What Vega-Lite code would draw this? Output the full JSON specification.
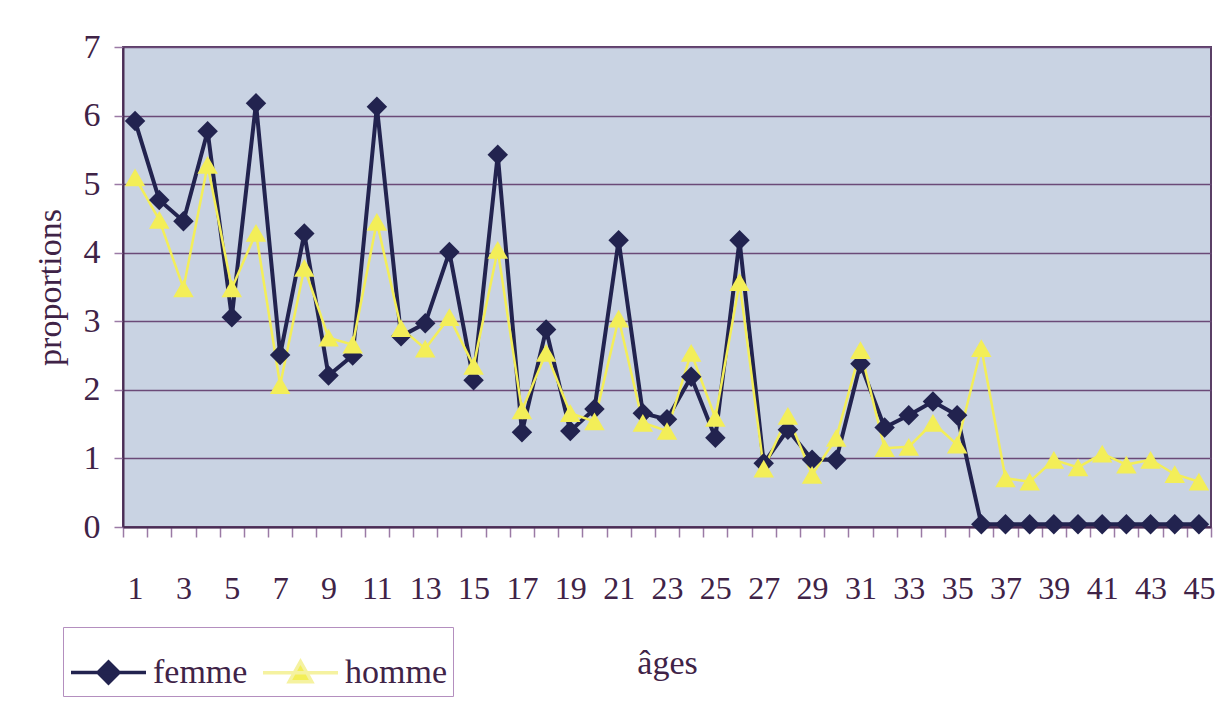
{
  "$schema": "https://vega.github.io/schema/vega-lite/v6.json",
  "width": 1088,
  "height": 480,
  "autosize": "none",
  "padding": {"left": 123, "top": 47, "right": 15, "bottom": 174},
  "background": "white",
  "config": {
    "font": "Liberation Serif",
    "view": {"fill": "#c9d3e3", "stroke": "#5a3f66", "strokeWidth": 2},
    "axis": {"labelColor": "#3f2347", "titleColor": "#3f2347", "labelFont": "Liberation Serif", "titleFont": "Liberation Serif", "titleFontWeight": "normal"}
  },
  "data": {"values": [
    {"age":1,"sexe":"femme","p":5.92},{"age":2,"sexe":"femme","p":4.77},{"age":3,"sexe":"femme","p":4.46},{"age":4,"sexe":"femme","p":5.77},{"age":5,"sexe":"femme","p":3.06},
    {"age":6,"sexe":"femme","p":6.18},{"age":7,"sexe":"femme","p":2.51},{"age":8,"sexe":"femme","p":4.28},{"age":9,"sexe":"femme","p":2.21},{"age":10,"sexe":"femme","p":2.5},
    {"age":11,"sexe":"femme","p":6.13},{"age":12,"sexe":"femme","p":2.78},{"age":13,"sexe":"femme","p":2.97},{"age":14,"sexe":"femme","p":4.01},{"age":15,"sexe":"femme","p":2.14},
    {"age":16,"sexe":"femme","p":5.43},{"age":17,"sexe":"femme","p":1.38},{"age":18,"sexe":"femme","p":2.88},{"age":19,"sexe":"femme","p":1.4},{"age":20,"sexe":"femme","p":1.72},
    {"age":21,"sexe":"femme","p":4.18},{"age":22,"sexe":"femme","p":1.66},{"age":23,"sexe":"femme","p":1.57},{"age":24,"sexe":"femme","p":2.19},{"age":25,"sexe":"femme","p":1.3},
    {"age":26,"sexe":"femme","p":4.18},{"age":27,"sexe":"femme","p":0.93},{"age":28,"sexe":"femme","p":1.42},{"age":29,"sexe":"femme","p":0.98},{"age":30,"sexe":"femme","p":0.98},
    {"age":31,"sexe":"femme","p":2.38},{"age":32,"sexe":"femme","p":1.45},{"age":33,"sexe":"femme","p":1.63},{"age":34,"sexe":"femme","p":1.83},{"age":35,"sexe":"femme","p":1.63},
    {"age":36,"sexe":"femme","p":0.04},{"age":37,"sexe":"femme","p":0.04},{"age":38,"sexe":"femme","p":0.04},{"age":39,"sexe":"femme","p":0.04},{"age":40,"sexe":"femme","p":0.04},
    {"age":41,"sexe":"femme","p":0.04},{"age":42,"sexe":"femme","p":0.04},{"age":43,"sexe":"femme","p":0.04},{"age":44,"sexe":"femme","p":0.04},{"age":45,"sexe":"femme","p":0.04},
    {"age":1,"sexe":"homme","p":5.1},{"age":2,"sexe":"homme","p":4.48},{"age":3,"sexe":"homme","p":3.48},{"age":4,"sexe":"homme","p":5.28},{"age":5,"sexe":"homme","p":3.48},
    {"age":6,"sexe":"homme","p":4.29},{"age":7,"sexe":"homme","p":2.07},{"age":8,"sexe":"homme","p":3.78},{"age":9,"sexe":"homme","p":2.76},{"age":10,"sexe":"homme","p":2.66},
    {"age":11,"sexe":"homme","p":4.45},{"age":12,"sexe":"homme","p":2.9},{"age":13,"sexe":"homme","p":2.6},{"age":14,"sexe":"homme","p":3.06},{"age":15,"sexe":"homme","p":2.35},
    {"age":16,"sexe":"homme","p":4.04},{"age":17,"sexe":"homme","p":1.7},{"age":18,"sexe":"homme","p":2.54},{"age":19,"sexe":"homme","p":1.66},{"age":20,"sexe":"homme","p":1.54},
    {"age":21,"sexe":"homme","p":3.04},{"age":22,"sexe":"homme","p":1.52},{"age":23,"sexe":"homme","p":1.4},{"age":24,"sexe":"homme","p":2.54},{"age":25,"sexe":"homme","p":1.59},
    {"age":26,"sexe":"homme","p":3.57},{"age":27,"sexe":"homme","p":0.85},{"age":28,"sexe":"homme","p":1.62},{"age":29,"sexe":"homme","p":0.76},{"age":30,"sexe":"homme","p":1.3},
    {"age":31,"sexe":"homme","p":2.58},{"age":32,"sexe":"homme","p":1.15},{"age":33,"sexe":"homme","p":1.17},{"age":34,"sexe":"homme","p":1.52},{"age":35,"sexe":"homme","p":1.2},
    {"age":36,"sexe":"homme","p":2.61},{"age":37,"sexe":"homme","p":0.71},{"age":38,"sexe":"homme","p":0.66},{"age":39,"sexe":"homme","p":0.98},{"age":40,"sexe":"homme","p":0.87},
    {"age":41,"sexe":"homme","p":1.07},{"age":42,"sexe":"homme","p":0.91},{"age":43,"sexe":"homme","p":0.98},{"age":44,"sexe":"homme","p":0.77},{"age":45,"sexe":"homme","p":0.66}
  ]},
  "encoding": {
    "x": {
      "field": "age", "type": "ordinal",
      "scale": {"type": "band", "paddingInner": 0, "paddingOuter": 0},
      "axis": {
        "orient": "bottom", "labelAngle": 0, "tickBand": "extent", "tickSize": 10, "tickColor": "#9b7aa5", "tickWidth": 1.5,
        "domainColor": "#4a2d55", "domainWidth": 2, "labelFontSize": 32, "labelPadding": 36,
        "labelExpr": "datum.value % 2 == 1 ? datum.label : ''", "labelOverlap": false, "labelFlush": false, "labelBound": false,
        "grid": false, "title": "âges", "titleFontSize": 34, "titleY": 136, "titleBaseline": "middle"
      }
    },
    "y": {
      "field": "p", "type": "quantitative",
      "scale": {"domain": [0, 7], "nice": false},
      "axis": {
        "values": [0, 1, 2, 3, 4, 5, 6, 7], "grid": true, "gridColor": "#6b4a78", "gridWidth": 1.5,
        "domainColor": "#4a2d55", "domainWidth": 2, "tickColor": "#9b7aa5", "tickSize": 9, "tickWidth": 1.5,
        "labelFontSize": 34, "labelPadding": 14,
        "title": "proportions", "titleFontSize": 34, "titleX": -73, "titleY": 240, "titleBaseline": "middle", "titleAngle": -90
      }
    }
  },
  "layer": [
    {
      "mark": {"type": "line"},
      "encoding": {
        "color": {"field": "sexe", "type": "nominal", "scale": {"domain": ["femme", "homme"], "range": ["#22234f", "#f3ee58"]}, "legend": null},
        "strokeWidth": {"field": "sexe", "type": "nominal", "scale": {"domain": ["femme", "homme"], "range": [4, 2.5]}, "legend": null}
      }
    },
    {
      "mark": {"type": "point", "filled": true, "opacity": 1, "size": 420},
      "encoding": {
        "color": {"field": "sexe", "type": "nominal", "scale": {"domain": ["femme", "homme"], "range": ["#22234f", "#f3ee58"]}, "legend": null},
        "shape": {"field": "sexe", "type": "nominal", "scale": {"domain": ["femme", "homme"], "range": ["diamond", "triangle-up"]}, "legend": null}
      }
    },
    {
      "mark": {"type": "point", "opacity": 0, "size": 10},
      "encoding": {
        "fill": {"field": "sexe", "type": "nominal", "scale": {"domain": ["femme", "homme"], "range": ["#22234f", "#f3ee58"]}},
        "stroke": {"field": "sexe", "type": "nominal", "scale": {"domain": ["femme", "homme"], "range": ["#22234f", "#f5f2a0"]}},
        "shape": {
          "field": "sexe", "type": "nominal",
          "scale": {"domain": ["femme", "homme"], "range": ["M-1,0L1,0M0,-0.28L0.28,0L0,0.28L-0.28,0Z", "M-1,0L1,0M0,-0.3L0.3,0.24L-0.3,0.24Z"]},
          "legend": {
            "orient": "none", "legendX": -60, "legendY": 580, "direction": "horizontal", "title": null,
            "symbolSize": 5625, "symbolStrokeWidth": 3.5, "symbolOpacity": 1,
            "labelFontSize": 34, "labelFont": "Liberation Serif", "labelColor": "#3f2347",
            "strokeColor": "#b48fbf", "padding": 6, "columnPadding": 8, "labelOffset": 5
          }
        }
      }
    }
  ],
  "resolve": {"scale": {"shape": "independent", "color": "independent", "fill": "independent", "stroke": "independent"}}
}
